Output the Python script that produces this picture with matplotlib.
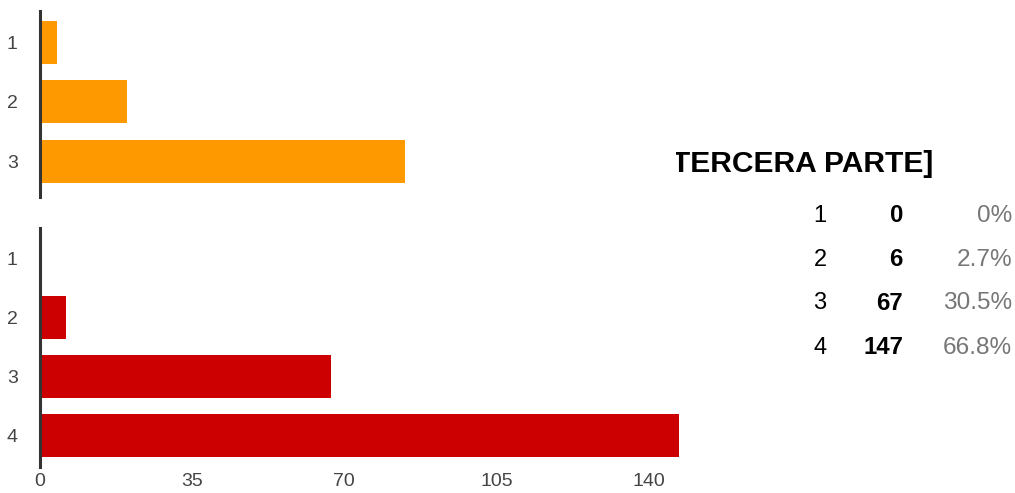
import matplotlib
matplotlib.use("Agg")
import matplotlib.pyplot as plt
from matplotlib.transforms import Bbox, TransformedBbox

# ---- data ----
top_categories = ["1", "2", "3"]
top_values = [4, 20, 84]

bottom_categories = ["1", "2", "3", "4"]
bottom_values = [0, 6, 67, 147]
bottom_percents = ["0%", "2.7%", "30.5%", "66.8%"]

x_ticks = [0, 35, 70, 105, 140]
title_text = "[TERCERA PARTE]"

W, H = 1015, 493
fig = plt.figure(figsize=(W / 100, H / 100), dpi=100)
fig.patch.set_facecolor("white")

px_per_unit = 4.347
x0 = 40
xmax = 150


def add_axes_px(left, top, width, height):
    return fig.add_axes([left / W, 1 - (top + height) / H, width / W, height / H])


axis_color = "#333333"
tick_color = "#444444"
tick_font = "Liberation Sans"
bar_h = 0.725


def style_axes(ax):
    for s in ["top", "right", "bottom"]:
        ax.spines[s].set_visible(False)
    ax.spines["left"].set_color(axis_color)
    ax.spines["left"].set_linewidth(2.2)
    ax.spines["left"].set_zorder(3)
    ax.tick_params(axis="y", length=0, pad=16, labelsize=14, labelcolor=tick_color)
    ax.tick_params(axis="x", length=0, pad=4.5, labelsize=14, labelcolor=tick_color)
    for t in ax.get_yticklabels() + ax.get_xticklabels():
        t.set_fontfamily(tick_font)
    ax.patch.set_alpha(0)


# top (orange) chart
ax1 = add_axes_px(x0, 11, xmax * px_per_unit, 186)
pos1 = list(range(1, len(top_categories) + 1))
ax1.barh(pos1, top_values, height=bar_h, color="#ff9900", zorder=2)
ax1.set_xlim(0, xmax)
ax1.set_ylim(3.605, 0.469)
ax1.set_yticks(pos1)
ax1.set_yticklabels(top_categories)
ax1.set_xticks([])
style_axes(ax1)

# bottom (red) chart
ax2 = add_axes_px(x0, 228, xmax * px_per_unit, 239)
pos2 = list(range(1, len(bottom_categories) + 1))
ax2.barh(pos2, bottom_values, height=bar_h, color="#cc0000", zorder=2)
ax2.set_xlim(0, xmax)
ax2.set_ylim(4.524, 0.494)
ax2.set_yticks(pos2)
ax2.set_yticklabels(bottom_categories)
ax2.set_xticks(x_ticks)
ax2.set_xticklabels([str(v) for v in x_ticks])
style_axes(ax2)

# title (cropped on the left)
title = fig.text(933 / W, 1 - 164 / H, title_text, ha="right", va="center",
                 fontsize=21.6, fontweight="bold", family="Liberation Sans",
                 color="black")
clip_bb = TransformedBbox(Bbox([[676 / W, 0], [1, 1]]), fig.transFigure)
title.set_clip_box(clip_bb)
title.set_clip_on(True)

# summary table
row_y = [215.5, 259.5, 303, 347.5]
for cat, val, pct, y in zip(bottom_categories, bottom_values, bottom_percents, row_y):
    fy = 1 - y / H
    fig.text(820 / W, fy, cat, ha="center", va="center", fontsize=17,
             family="Liberation Sans", color="black")
    fig.text(903 / W, fy, str(val), ha="right", va="center", fontsize=17.3,
             fontweight="bold", family="Liberation Sans", color="black")
    fig.text(1012 / W, fy, pct, ha="right", va="center", fontsize=17.6,
             family="Liberation Sans", color="#777777")

fig.savefig("out.png", dpi=100, facecolor="white")
